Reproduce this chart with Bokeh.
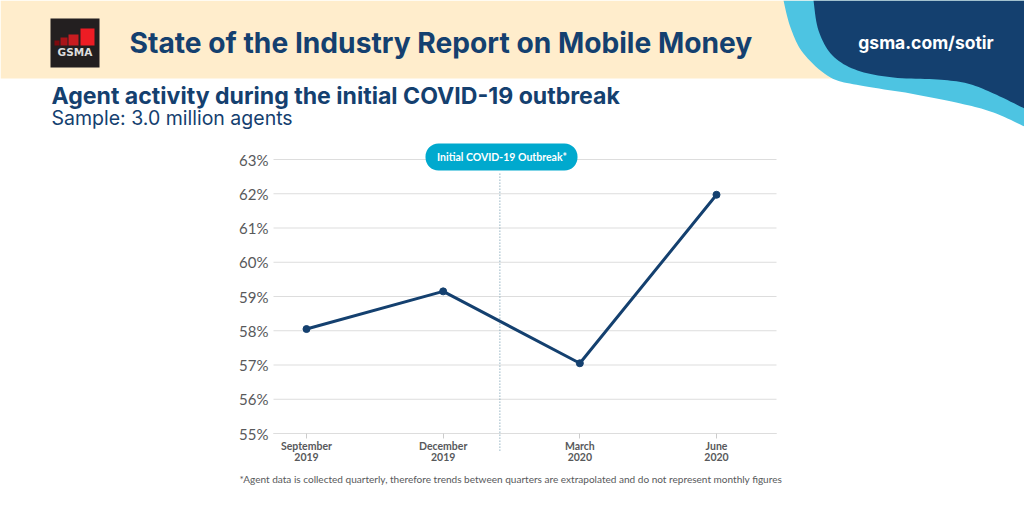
import numpy as np
from bokeh.plotting import figure
from bokeh.models import Label, PolyAnnotation, BoxAnnotation, Range1d, FixedTicker
from bokeh.embed import file_html
from bokeh.resources import INLINE

# ---- data
quarters = ["September\n2019", "December\n2019", "March\n2020", "June\n2020"]
agent_activity = [58.05, 59.15, 57.05, 61.97]
y_ticks = [55, 56, 57, 58, 59, 60, 61, 62, 63]
outbreak_position = 1.415
title = "State of the Industry Report on Mobile Money"
subtitle = "Agent activity during the initial COVID-19 outbreak"
sample = "Sample: 3.0 million agents"
site = "gsma.com/sotir"
pill_text = "Initial COVID-19 Outbreak*"
footnote = "*Agent data is collected quarterly, therefore trends between quarters are extrapolated and do not represent monthly figures"

NAVY = "#14406f"
CREAM = "#ffedcc"
SKY = "#4dc4e2"
PILL = "#00a9ce"
W, H = 1024, 513

def smooth(pts, n=10):
    p = np.array([pts[0]] + pts + [pts[-1]], dtype=float)
    out = []
    for i in range(1, len(p) - 2):
        for t in np.linspace(0, 1, n, endpoint=False):
            out.append(0.5 * (2 * p[i] + (p[i + 1] - p[i - 1]) * t
                              + (2 * p[i - 1] - 5 * p[i] + 4 * p[i + 1] - p[i + 2]) * t ** 2
                              + (3 * p[i] - p[i - 1] - 3 * p[i + 1] + p[i + 2]) * t ** 3))
    out.append(p[-1])
    return np.array(out)

outer_wave = [(783, 0), (790, 27), (803, 53), (830, 77), (860, 85), (910, 93), (960, 103), (993, 112), (1024, 126)]
inner_wave = [(813, 0), (818, 30), (832, 55), (857, 70), (893, 77), (937, 79), (967, 83), (993, 93), (1024, 108)]

# The frame fills the page; the ranges put the chart where the reference has it.
px_per_x = 136.67
px_per_y = 34.25
p = figure(width=W, height=H, output_backend="svg", toolbar_location=None,
           x_range=Range1d(-306 / px_per_x, (W - 306) / px_per_x),
           y_range=Range1d(55 - (H - 433) / px_per_y, 55 + 433 / px_per_y),
           min_border=0, outline_line_color=None, background_fill_color="white", border_fill_color="white")

x_left, x_right = (273 - 306) / px_per_x, (776 - 306) / px_per_x

p.xgrid.visible = False
p.ygrid.visible = False
p.segment([x_left] * len(y_ticks), y_ticks, [x_right] * len(y_ticks), y_ticks,
          line_color="#dddddd", line_width=1, level="underlay")

p.yaxis.fixed_location = x_left
p.yaxis.ticker = FixedTicker(ticks=y_ticks)
p.yaxis.major_label_overrides = {t: f"{t}%" for t in y_ticks}
p.yaxis.axis_line_color = None
p.yaxis.major_tick_line_color = None
p.yaxis.major_tick_out = 0
p.yaxis.major_tick_in = 0
p.yaxis.minor_tick_line_color = None
p.yaxis.minor_tick_out = 0
p.yaxis.major_label_standoff = 5
p.yaxis.major_label_text_font = "Lato"
p.yaxis.major_label_text_font_size = "15px"
p.yaxis.major_label_text_color = "#58595b"

xs = list(range(len(quarters)))
p.xaxis.fixed_location = 55
p.xaxis.bounds = (x_left, x_right)
p.xaxis.ticker = FixedTicker(ticks=xs)
p.xaxis.major_label_overrides = {i: q for i, q in enumerate(quarters)}
p.xaxis.axis_line_color = "#dddddd"
p.xaxis.major_tick_line_color = "#cccccc"
p.xaxis.major_tick_in = 0
p.xaxis.major_tick_out = 5
p.xaxis.minor_tick_line_color = None
p.xaxis.major_label_standoff = 1
p.xaxis.major_label_text_font = "Lato"
p.xaxis.major_label_text_font_style = "bold"
p.xaxis.major_label_text_font_size = "10.5px"
p.xaxis.major_label_text_color = "#58595b"
p.xaxis.major_label_text_line_height = 0.95

p.line([outbreak_position, outbreak_position], [54.5, 62.6],
       line_color="#5f8ea5", line_width=1, line_dash=[1, 2])
p.line(xs, agent_activity, line_color=NAVY, line_width=3)
p.scatter(xs, agent_activity, size=7, fill_color=NAVY, line_color=NAVY)

def poly(x, y, color, level="overlay"):
    p.add_layout(PolyAnnotation(xs=list(x), ys=list(y), xs_units="canvas", ys_units="canvas",
                                fill_color=color, fill_alpha=1, line_color=None, level=level))

def box(l, r, t, b, color, radius=0):
    p.add_layout(BoxAnnotation(left=l, right=r, top=t, bottom=b,
                               left_units="canvas", right_units="canvas",
                               top_units="canvas", bottom_units="canvas",
                               fill_color=color, fill_alpha=1, line_color=None,
                               border_radius=radius, level="overlay"))

def text(x, y, s, size, color, font="Inter", style="normal", align="left"):
    p.add_layout(Label(x=x, y=y, x_units="canvas", y_units="canvas", text=s,
                       text_font=font, text_font_size=size, text_font_style=style,
                       text_color=color, text_align=align, text_baseline="middle", level="overlay"))

# banner
box(0, W, 0, 78, CREAM)
o = smooth(outer_wave)
i = smooth(inner_wave)
poly(list(o[:, 0]) + [W, W], list(o[:, 1]) + [126, 0], SKY)
poly(list(i[:, 0]) + [W, W], list(i[:, 1]) + [108, 0], NAVY)

# logo
box(50, 99, 18, 67, "#231f20")
for l, r, t, c in [(54, 59, 40, "#7d0a0f"), (60, 67, 37, "#a81418"), (68, 78, 34, "#c81c20"), (80, 94, 28, "#ed1c24")]:
    box(l, r, t, 45, c)
text(74.5, 51.5, "GSMA", "10.5px", "#dddddd", font="DejaVu Sans", style="bold", align="center")

text(129, 42, title, "28.2px", NAVY, style="bold")
text(925.5, 42, site, "17.5px", "white", style="bold", align="center")
text(51, 95, subtitle, "23.1px", NAVY, style="bold")
text(51, 117, sample, "19.5px", NAVY)

# outbreak marker
box(425, 577, 143, 170, PILL, radius=13)
text(501.5, 156.5, pill_text, "10.5px", "white", font="Lato", style="bold", align="center")

text(239, 478, footnote, "10.05px", "#58595b", font="Lato")

open("out.html", "w").write(file_html(p, INLINE))
